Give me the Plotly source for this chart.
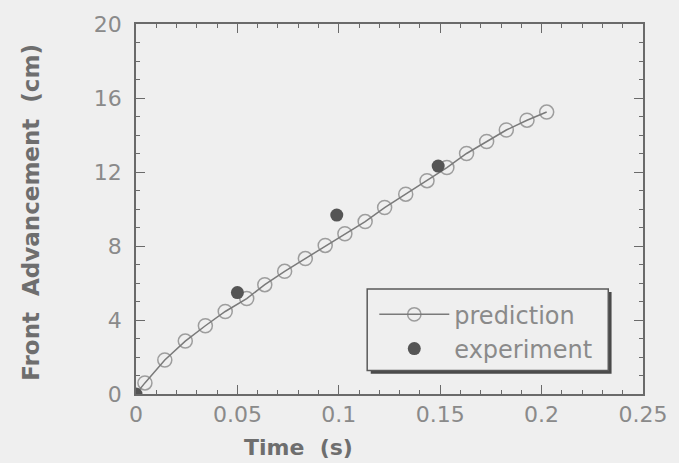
import plotly.graph_objects as go

# Prediction (model) values
pred_t = [0.0, 0.0044, 0.0142, 0.0243, 0.0342, 0.044, 0.0546, 0.0635, 0.0733, 0.0835, 0.0933,
          0.103, 0.113, 0.1226, 0.133, 0.1435, 0.1533, 0.163, 0.1729, 0.1826, 0.1928, 0.2025]
pred_v = [0.0, 0.60, 1.84, 2.86, 3.69, 4.46, 5.16, 5.91, 6.63, 7.32, 8.03,
          8.66, 9.32, 10.08, 10.80, 11.53, 12.24, 13.00, 13.65, 14.27, 14.80, 15.24]

# Experimental values
exp_t = [0.0, 0.050, 0.099, 0.149]
exp_v = [0.0, 5.48, 9.67, 12.32]

x_ticks = [0, 0.05, 0.1, 0.15, 0.2, 0.25]
x_labels = ["0", "0.05", "0.1", "0.15", "0.2", "0.25"]
y_ticks = [0, 4, 8, 12, 16, 20]

BG = "#efefef"
AX = "#6a6a6a"
TXT = "#8a8a8a"
TTL = "#6e6e6e"
FONT = "DejaVu Sans"

fig = go.Figure()
fig.add_trace(go.Scatter(
    x=pred_t, y=pred_v, name="prediction", mode="lines+markers",
    line=dict(color="#7a7a7a", width=1.5),
    marker=dict(symbol="circle-open", size=[0] + [14] * (len(pred_t) - 1),
                color="#7a7a7a", line=dict(width=1.5, color="#7a7a7a")),
))
fig.add_trace(go.Scatter(
    x=exp_t, y=exp_v, name="experiment", mode="markers",
    marker=dict(symbol="circle", size=13, color="#555555"),
))

axis_common = dict(
    showline=True, linecolor=AX, linewidth=1.5, mirror="allticks",
    ticks="inside", ticklen=9, tickwidth=1.2, tickcolor=AX,
    showgrid=False, zeroline=False,
    tickfont=dict(family=FONT, size=22, color=TXT),
)

fig.update_xaxes(range=[0, 0.25], tickvals=x_ticks, ticktext=x_labels,
                 minor=dict(ticks="inside", dtick=0.01, ticklen=4, tickcolor=AX, tickwidth=1),
                 **axis_common)
fig.update_yaxes(range=[0, 20], tickvals=y_ticks,
                 minor=dict(ticks="inside", dtick=1, ticklen=4, tickcolor=AX, tickwidth=1),
                 ticklabelstandoff=8,
                 **axis_common)

# legend frame with shadow
fig.add_shape(type="rect", xref="paper", yref="paper",
              x0=0.463, x1=0.938, y0=0.055, y1=0.276,
              fillcolor="#4a4a4a", line=dict(width=0), layer="below")
fig.add_shape(type="rect", xref="paper", yref="paper",
              x0=0.456, x1=0.9315, y0=0.0637, y1=0.2838,
              fillcolor=BG, line=dict(color="#5a5a5a", width=1.5), layer="below")

fig.add_annotation(text="<b>Time  (s)</b>", xref="paper", yref="paper",
                   x=0.32, y=-0.145, showarrow=False, xanchor="center", yanchor="middle",
                   font=dict(family=FONT, size=22, color=TTL))
fig.add_annotation(text="<b>Front  Advancement  (cm)</b>", xref="paper", yref="paper",
                   x=-0.207, y=0.49, showarrow=False, textangle=-90,
                   xanchor="center", yanchor="middle",
                   font=dict(family=FONT, size=23, color=TTL))

fig.update_layout(
    width=679, height=463,
    margin=dict(l=136, r=32, t=17, b=69),
    paper_bgcolor=BG, plot_bgcolor=BG,
    showlegend=True,
    legend=dict(x=0.47, y=0.275, xanchor="left", yanchor="top",
                bgcolor="rgba(0,0,0,0)", borderwidth=0,
                itemwidth=70, tracegroupgap=0,
                font=dict(family=FONT, size=24, color=TXT)),
)

fig.write_html("out.html", config={"displayModeBar": False},
               post_script="document.body.style.margin='0';document.body.style.overflow='hidden';")
